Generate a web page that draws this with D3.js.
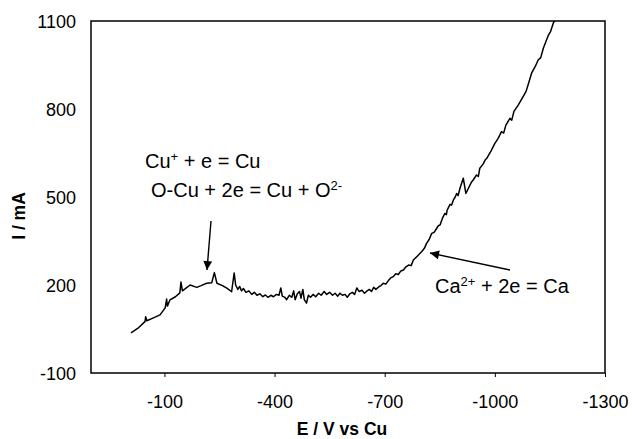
<!DOCTYPE html>
<html>
<head>
<meta charset="utf-8">
<script src="https://cdn.jsdelivr.net/npm/d3@7"></script>
<style>
  body { margin: 0; background: #fff; }
  svg text { font-family: "Liberation Sans", Arial, sans-serif; fill: #000; }
  .axis path, .axis line { stroke: #000; }
  .title { font-weight: bold; font-size: 17.5px; }
</style>
</head>
<body>
<div id="chart"></div>
<script>
// potential (mV vs Cu) and current (mA)
var potential = [
  -9, -30, -47, -49, -52, -70, -88, -102, -106, -108, -115, -130, -142, -145, -149, -170,
  -188, -200, -215, -229, -236, -243, -258, -270, -283, -290, -294, -300, -305, -310, -315,
  -322, -330, -338, -345, -352, -360, -368, -375, -382, -390, -397, -405, -412, -417, -421,
  -428, -433, -440, -447, -452, -456, -462, -468, -472, -477, -481, -487, -492, -498, -505,
  -512, -520, -527, -535, -542, -550, -558, -565, -572, -578, -585, -592, -598, -605, -612,
  -618, -624, -630, -638, -645, -652, -658, -664, -670, -676, -685, -690, -696, -703, -710,
  -717, -723, -730, -737, -744, -751, -758, -765, -772, -778, -790, -801, -808, -814, -821,
  -828, -835, -840, -846, -851, -858, -864, -868, -870, -878, -882, -887, -892, -896, -900,
  -905, -914, -921, -930, -936, -941, -950, -955, -959, -968, -973, -978, -990, -1000,
  -1009, -1018, -1024, -1030, -1041, -1046, -1052, -1064, -1077, -1085, -1090, -1100,
  -1110, -1118, -1125, -1132, -1146, -1152, -1159, -1168
];
var current = [
  37, 55, 75, 92, 78, 88, 98, 122, 152, 128, 149, 160, 173, 210, 180, 200,
  192, 198, 206, 208, 242, 206, 198, 189, 177, 241, 200, 185, 195, 180, 188,
  175, 180, 168, 175, 165, 170, 160, 166, 158, 165, 160, 168, 165, 190, 162,
  158, 150, 165, 158, 180, 150, 170, 178, 155, 185, 150, 138, 165, 158, 168,
  160, 172, 165, 178, 168, 175, 165, 172, 162, 172, 165, 168, 158, 170, 175,
  168, 190, 178, 182, 172, 180, 185, 178, 192, 185, 195, 198, 206, 203, 215,
  225, 228, 238, 236, 248, 251, 262, 268, 266, 285, 300, 314, 325, 342, 355,
  376, 380, 390, 402, 405, 430, 444, 440, 455, 475, 472, 490, 500, 512, 505,
  530, 564, 512, 535, 550, 558, 575, 570, 598, 612, 625, 632, 658, 683,
  700, 723, 718, 745, 768, 762, 792, 814, 842, 860, 880, 922,
  945, 967, 975, 1007, 1052, 1065, 1092, 1115
];
var xTicks = [-100, -400, -700, -1000, -1300];
var yTicks = [-100, 200, 500, 800, 1100];

var width = 632, height = 439;
var margin = {top: 21, right: 27, bottom: 66, left: 91};
var w = width - margin.left - margin.right,
    h = height - margin.top - margin.bottom;

var svg = d3.select("#chart").append("svg")
    .attr("width", width)
    .attr("height", height);

var g = svg.append("g")
    .attr("transform", "translate(" + margin.left + "," + margin.top + ")");

var x = d3.scaleLinear().domain([100, -1300]).range([0, w]);
var y = d3.scaleLinear().domain([-100, 1100]).range([h, 0]);

var plain = function(d) { return String(d); };

// x axis
var xAxis = g.append("g")
    .attr("class", "axis")
    .attr("transform", "translate(0," + h + ")")
    .call(d3.axisBottom(x).tickValues(xTicks).tickFormat(plain)
      .tickSizeInner(4).tickSizeOuter(0).tickPadding(18));
xAxis.selectAll("text").style("font-size", "18px");
xAxis.select(".domain").remove();

// y axis
var yAxis = g.append("g")
    .attr("class", "axis")
    .call(d3.axisLeft(y).tickValues(yTicks).tickFormat(plain).tickSize(0).tickPadding(15));
yAxis.selectAll("text").style("font-size", "18px").attr("dy", "0.36em");
yAxis.select(".domain").remove();

// frame
g.append("rect")
    .attr("width", w)
    .attr("height", h)
    .attr("fill", "none")
    .attr("stroke", "#000")
    .attr("stroke-width", 1.5);

// clip so the curve stops at the top border
g.append("clipPath").attr("id", "clip")
  .append("rect").attr("width", w).attr("height", h);

var pts = potential.map(function(d, i) { return [d, current[i]]; });

var line = d3.line()
    .x(function(d) { return x(d[0]); })
    .y(function(d) { return y(d[1]); });

g.append("path")
    .datum(pts)
    .attr("clip-path", "url(#clip)")
    .attr("fill", "none")
    .attr("stroke", "#000")
    .attr("stroke-width", 1.5)
    .attr("stroke-linejoin", "round")
    .attr("d", line);

// arrow heads
svg.append("defs").append("marker")
    .attr("id", "head")
    .attr("viewBox", "0 0 10 10")
    .attr("refX", 10).attr("refY", 5)
    .attr("markerWidth", 15).attr("markerHeight", 9)
    .attr("markerUnits", "userSpaceOnUse")
    .attr("orient", "auto")
  .append("path")
    .attr("d", "M0,0 L10,5 L0,10 Z")
    .attr("fill", "#000");

function arrow(x1, y1, x2, y2) {
  svg.append("line")
      .attr("x1", x1).attr("y1", y1)
      .attr("x2", x2).attr("y2", y2)
      .attr("stroke", "#000")
      .attr("stroke-width", 1.4)
      .attr("marker-end", "url(#head)");
}
arrow(211, 221, 207, 270);
arrow(510, 270, 430, 253);

// annotations
function label(xp, yp, parts) {
  var t = svg.append("text")
      .attr("x", xp).attr("y", yp)
      .style("font-size", "20px");
  parts.forEach(function(p) {
    var s = t.append("tspan").text(p[0]);
    if (p[1]) {
      s.attr("dy", -7).style("font-size", "13px");
    } else if (p[2]) {
      s.attr("dy", 7);
    }
  });
}
label(145, 168, [["Cu"], ["+", true], [" + e = Cu", false, true]]);
label(151, 197, [["O-Cu + 2e = Cu + O"], ["2-", true]]);
label(435, 293, [["Ca"], ["2+", true], [" + 2e = Ca", false, true]]);

// axis titles
svg.append("text")
    .attr("class", "title")
    .attr("x", margin.left + w / 2 - 6)
    .attr("y", 435)
    .attr("text-anchor", "middle")
    .text("E / V vs Cu");

svg.append("text")
    .attr("class", "title")
    .attr("transform", "translate(25,216) rotate(-90)")
    .attr("text-anchor", "middle")
    .text("I / mA");
</script>
</body>
</html>
